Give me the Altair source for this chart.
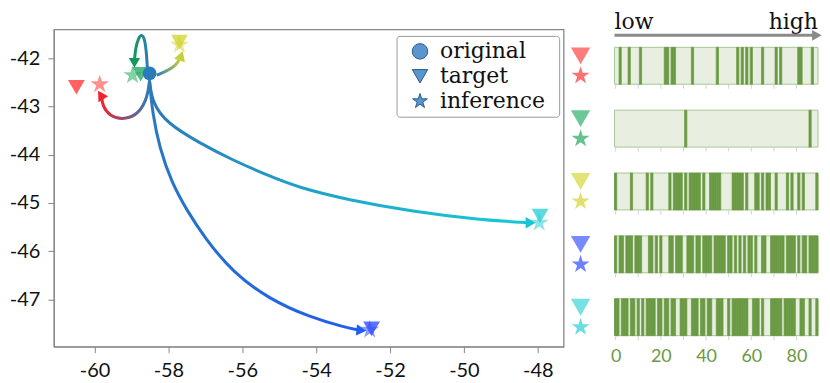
import altair as alt
import pandas as pd

# ---------------- data ----------------
groups = ["red", "green", "yellow", "blue", "cyan"]
marker_colors = ["#ff3535", "#1faa5e", "#d4d430", "#2e4bff", "#2ccfd6"]
curve_end_colors = ["#f5222d", "#11985a", "#c4cf3a", "#1e5ef0", "#16c4d4"]
curve_start_color = "#2b7bba"
original_color = "#2b7bba"

type_names = ["original", "target", "inference"]

original_x = [-58.51]
original_y = [-42.31]
target_x = [-60.49, -58.75, -57.70, -52.50, -47.94]
target_y = [-42.60, -42.33, -41.66, -47.61, -45.27]
inference_x = [-59.86, -58.97, -57.70, -52.55, -47.96]
inference_y = [-42.54, -42.35, -41.72, -47.63, -45.41]

# curve points (start at original, end at arrow head)
path_red_x = [-58.51, -58.56, -58.78, -59.19, -59.59, -59.78, -59.81]
path_red_y = [-42.45, -42.79, -43.14, -43.28, -43.20, -42.99, -42.79]
path_green_x = [-58.56, -58.59, -58.64, -58.71, -58.81, -58.89, -58.92]
path_green_y = [-42.35, -41.90, -41.61, -41.50, -41.57, -41.79, -42.06]
path_yellow_x = [-58.32, -58.05, -57.78, -57.67]
path_yellow_y = [-42.35, -42.27, -42.14, -41.98]
path_blue_x = [-58.51, -58.43, -58.24, -57.91, -57.51, -57.02, -56.26, -55.26, -54.17, -53.22, -52.82]
path_blue_y = [-42.48, -43.14, -43.86, -44.58, -45.14, -45.72, -46.44, -47.00, -47.37, -47.58, -47.64]
path_cyan_x = [-58.51, -58.43, -58.05, -57.15, -56.26, -55.34, -54.44, -53.17, -51.38, -49.57, -48.24]
path_cyan_y = [-42.48, -42.93, -43.34, -43.76, -44.11, -44.42, -44.69, -44.93, -45.18, -45.35, -45.41]

arrow_x = [-59.81, -58.92, -57.67, -52.82, -48.24]
arrow_y = [-42.79, -42.06, -41.98, -47.64, -45.41]
arrow_angle = [328, 180, 18, 95, 90]

x_ticks = [-60, -58, -56, -54, -52, -50, -48]
y_ticks = [-47, -46, -45, -44, -43, -42]

# barcode panels: dark cells (index 0..89)
dark_red = [2, 6, 11, 22, 23, 25, 26, 34, 45, 54, 56, 58, 60, 65, 71, 73, 81, 82, 87]
dark_green = [31, 86]
dark_yellow = [0, 7, 14, 16, 24, 26, 27, 28, 29, 31, 33, 34, 35, 36, 37, 39, 42, 43, 44, 45, 46,
               52, 53, 54, 55, 56, 58, 62, 63, 65, 67, 68, 71, 76, 78, 81, 83, 89]
dark_blue = [0, 2, 3, 5, 6, 7, 9, 10, 11, 15, 16, 18, 20, 24, 25, 27, 28, 29, 32, 33, 34, 36, 37,
             39, 40, 41, 42, 44, 45, 46, 47, 48, 50, 51, 53, 55, 57, 59, 60, 62, 65, 66, 69, 70,
             71, 72, 73, 74, 76, 77, 78, 79, 81, 83, 84, 86, 87, 88, 89]
dark_cyan = [0, 1, 3, 4, 5, 7, 8, 10, 12, 14, 15, 16, 17, 19, 20, 22, 23, 25, 26, 29, 30, 31, 34,
             35, 36, 38, 39, 41, 42, 45, 46, 47, 50, 52, 53, 54, 55, 56, 57, 58, 61, 62, 63, 65,
             69, 70, 71, 72, 73, 75, 76, 77, 78, 79, 82, 83, 86, 89]
cell_min, cell_max = 0, 89
bar_ticks = [0, 10, 20, 30, 40, 50, 60, 70, 80]
bar_labels = [0, 20, 40, 60, 80]
header_words = ["low", "high"]

STAR = ("M0,-1L0.2245,-0.309L0.951,-0.309L0.363,0.118L0.588,0.809L0,0.382"
        "L-0.588,0.809L-0.363,0.118L-0.951,-0.309L-0.2245,-0.309Z")
legend_shapes = ["circle", "triangle-down", STAR]

# ---------------- main scatter ----------------
xscale = alt.Scale(domain=[-61.1, -47.3], nice=False, zero=False)
yscale = alt.Scale(domain=[-47.98, -41.40], nice=False, zero=False)
axis_common = dict(title=None, grid=False, labelFont="Lato", labelFontSize=20,
                   labelColor="#111", tickColor="#888", domainColor="#888",
                   tickSize=6, labelExpr="'' + datum.value")
x_axis = alt.Axis(values=x_ticks, labelPadding=8, **axis_common)
y_axis = alt.Axis(values=y_ticks, labelPadding=8, **axis_common)

path_sets = [(path_red_x, path_red_y), (path_green_x, path_green_y),
             (path_yellow_x, path_yellow_y), (path_blue_x, path_blue_y),
             (path_cyan_x, path_cyan_y)]
gradient_dirs = [(1, 0.5, 0, 0.5), (1, 0.5, 0, 0.5), (0, 0.5, 1, 0.5), (0, 0, 1, 1), (0, 0.3, 1, 0.7)]

layers = []
for i, g in enumerate(groups):
    px, py = path_sets[i]
    df = pd.DataFrame({"x": px, "y": py, "step": list(range(len(px)))})
    gx1, gy1, gx2, gy2 = gradient_dirs[i]
    grad = alt.LinearGradient(
        gradient="linear",
        stops=[alt.GradientStop(color=curve_start_color, offset=0),
               alt.GradientStop(color=curve_end_colors[i], offset=1)],
        x1=gx1, y1=gy1, x2=gx2, y2=gy2)
    layers.append(
        alt.Chart(df).mark_line(stroke=grad, strokeWidth=3, interpolate="basis").encode(
            x=alt.X("x:Q", scale=xscale, axis=x_axis),
            y=alt.Y("y:Q", scale=yscale, axis=y_axis),
            order="step:Q"))
    adf = pd.DataFrame({"x": [arrow_x[i]], "y": [arrow_y[i]]})
    layers.append(
        alt.Chart(adf).mark_point(shape="triangle", filled=True, size=130, opacity=1,
                                  color=curve_end_colors[i], angle=arrow_angle[i]).encode(
            x=alt.X("x:Q", scale=xscale, axis=x_axis),
            y=alt.Y("y:Q", scale=yscale, axis=y_axis)))

mk = pd.DataFrame({
    "group": groups + groups + ["orig"],
    "kind": ["target"] * 5 + ["inference"] * 5 + ["original"],
    "x": target_x + inference_x + original_x,
    "y": target_y + inference_y + original_y,
})
markers = alt.Chart(mk).mark_point(filled=True, strokeWidth=1).encode(
    x=alt.X("x:Q", scale=xscale, axis=x_axis),
    y=alt.Y("y:Q", scale=yscale, axis=y_axis),
    color=alt.Color("group:N", scale=alt.Scale(domain=groups + ["orig"],
                                               range=marker_colors + [original_color]),
                    legend=None),
    shape=alt.Shape("kind:N", scale=alt.Scale(domain=type_names, range=legend_shapes), legend=None),
    size=alt.Size("kind:N", scale=alt.Scale(domain=type_names, range=[190, 380, 340]), legend=None),
    opacity=alt.Opacity("kind:N", scale=alt.Scale(domain=type_names, range=[1, 0.55, 0.6]), legend=None),
)
layers.append(markers)

# legend box (drawn inside the plot, top-right)
legend_box = alt.Chart(pd.DataFrame({"k": [0]})).mark_rect(
    fill="white", stroke="#9a9a9a", strokeWidth=1, cornerRadius=3).encode(
    x=alt.value(344), x2=alt.value(507), y=alt.value(7), y2=alt.value(88))
layers.append(legend_box)
legend_rows_y = [22, 47, 72]
for name, shp, ly in zip(type_names, legend_shapes, legend_rows_y):
    ldf = pd.DataFrame({"label": [name]})
    layers.append(alt.Chart(ldf).mark_point(
        shape=shp, filled=True, size=240, color="#5b95d0", stroke="#2a5a8a",
        strokeWidth=1, opacity=1).encode(x=alt.value(367), y=alt.value(ly)))
    layers.append(alt.Chart(ldf).mark_text(
        font="DejaVu Serif", fontSize=22, color="#111", align="left", baseline="middle").encode(
        x=alt.value(387), y=alt.value(ly), text="label:N"))

main = alt.layer(*layers).properties(width=511, height=318)

# ---------------- barcode panels ----------------
dark_lists = [dark_red, dark_green, dark_yellow, dark_blue, dark_cyan]
bars = pd.DataFrame({
    "row": [g for g, d in zip(groups, dark_lists) for _ in d],
    "idx": [v for d in dark_lists for v in d],
})
bg = pd.DataFrame({"row": groups, "lo": [cell_min] * 5, "hi": [cell_max] * 5})
ticks_df = pd.DataFrame({
    "row": [g for g in groups for _ in bar_ticks],
    "t": [t for _ in groups for t in bar_ticks],
})

bx = alt.Scale(domain=[cell_min - 0.5, cell_max + 0.5], nice=False, zero=False)
by = alt.Scale(domain=groups, paddingInner=0.413, paddingOuter=0.23, align=0.62)
bx_axis = alt.Axis(values=bar_labels, title=None, grid=False, domain=False, ticks=False,
                   labelFont="Lato", labelFontSize=18, labelColor="#6a9a44", labelPadding=1)

bg_layer = alt.Chart(bg).transform_calculate(a="datum.lo - 0.5", b="datum.hi + 0.5").mark_rect(
    fill="#e8efe1", stroke="#a9c79a", strokeWidth=1).encode(
    x=alt.X("a:Q", scale=bx, axis=bx_axis), x2="b:Q",
    y=alt.Y("row:N", scale=by, axis=None))
bar_layer = alt.Chart(bars).transform_calculate(a="datum.idx - 0.5", b="datum.idx + 0.5").mark_rect(
    fill="#6a9a44", stroke="#6a9a44", strokeWidth=0.7).encode(
    x=alt.X("a:Q", scale=bx, axis=bx_axis), x2="b:Q",
    y=alt.Y("row:N", scale=by, axis=None))
tick_layer = alt.Chart(ticks_df).mark_tick(color="#b6c8a8", size=4, thickness=1, yOffset=21).encode(
    x=alt.X("t:Q", scale=bx, axis=bx_axis),
    y=alt.Y("row:N", scale=by, axis=None))

sym = pd.DataFrame({"row": groups + groups,
                    "kind": ["target"] * 5 + ["inference"] * 5})
sym_color = alt.Color("row:N", scale=alt.Scale(domain=groups, range=marker_colors), legend=None)
tri_layer = alt.Chart(sym).transform_filter("datum.kind == 'target'").mark_point(
    shape="triangle-down", filled=True, size=380, opacity=0.65, xOffset=-34, yOffset=-10).encode(
    x=alt.X(datum=cell_min - 0.5, type="quantitative", scale=bx, axis=bx_axis),
    y=alt.Y("row:N", scale=by, axis=None), color=sym_color)
star_layer = alt.Chart(sym).transform_filter("datum.kind == 'inference'").mark_point(
    shape=STAR, filled=True, size=360, opacity=0.7, xOffset=-34, yOffset=10).encode(
    x=alt.X(datum=cell_min - 0.5, type="quantitative", scale=bx, axis=bx_axis),
    y=alt.Y("row:N", scale=by, axis=None), color=sym_color)

hdr = pd.DataFrame({"row": [groups[0]], "w0": [header_words[0]], "w1": [header_words[1]]})
low_layer = alt.Chart(hdr).mark_text(font="DejaVu Serif", fontSize=22, color="#111",
                                     align="left", baseline="alphabetic", dy=-37).encode(
    x=alt.X(datum=cell_min - 0.5, type="quantitative", scale=bx, axis=bx_axis),
    y=alt.Y("row:N", scale=by, axis=None), text="w0:N")
high_layer = alt.Chart(hdr).mark_text(font="DejaVu Serif", fontSize=22, color="#111",
                                      align="right", baseline="alphabetic", dy=-37).encode(
    x=alt.X(datum=cell_max + 0.5, type="quantitative", scale=bx, axis=bx_axis),
    y=alt.Y("row:N", scale=by, axis=None), text="w1:N")
arrow_line = alt.Chart(hdr).mark_rule(color="#8a8a8a", strokeWidth=3, yOffset=-30.5).encode(
    x=alt.X(datum=cell_min - 0.5, type="quantitative", scale=bx, axis=bx_axis),
    x2=alt.X2(datum=cell_max - 0.5),
    y=alt.Y("row:N", scale=by, axis=None))
arrow_head = alt.Chart(hdr).mark_point(shape="triangle-right", filled=True, size=120, opacity=1,
                                       color="#8a8a8a", yOffset=-30.5).encode(
    x=alt.X(datum=cell_max, type="quantitative", scale=bx, axis=bx_axis),
    y=alt.Y("row:N", scale=by, axis=None))

right = alt.layer(bg_layer, bar_layer, tick_layer, tri_layer, star_layer,
                  low_layer, high_layer, arrow_line, arrow_head).properties(
    width=204, height=318, view=alt.ViewBackground(stroke=None))

chart = alt.hconcat(main, right, spacing=51, bounds="flush").properties(
    padding={"left": 0, "top": 2, "right": 0, "bottom": 0}
).configure_view(stroke="#888", strokeWidth=1.3)

chart.save("out.html", embed_options={"renderer": "svg", "actions": False})
